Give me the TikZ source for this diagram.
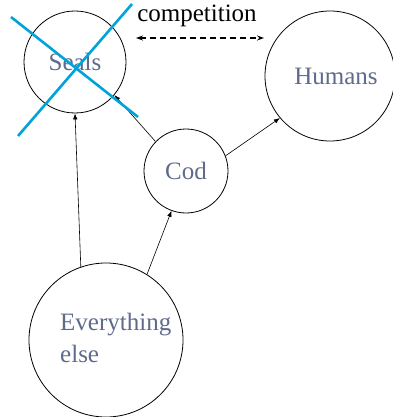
\documentclass[tikz,border=0pt]{standalone}
\usepackage{fontspec}
\setmainfont{Liberation Serif}
\usetikzlibrary{arrows.meta}
\definecolor{nodetext}{RGB}{95,106,140}
\definecolor{crossblue}{RGB}{0,163,218}
\begin{document}
\begin{tikzpicture}[x=1pt,y=-1pt,
  species/.style={circle,draw=black,line width=0.8pt,inner sep=0pt,
    text=nodetext,font=\fontsize{25}{29}\selectfont},
  link/.style={line width=0.6pt,-{Latex[length=6pt,width=4.5pt]}},
  cross/.style={crossblue,line width=2.6pt}]
  \useasboundingbox (0,0) rectangle (392,417);

  % food-web nodes
  \node[species,minimum size=102pt] (seals) at (75,62) {Seals};
  \node[species,minimum size=130pt] (humans) at (330,76) {\hspace*{12pt}Humans};
  \node[species,minimum size=84pt] (cod) at (186,171) {Cod};
  \node[species,minimum size=154pt] (else) at (106,340) {};
  \node[text=nodetext,font=\fontsize{25}{32}\selectfont,align=left,anchor=north west,inner sep=0pt]
    (elselabel) at (60,313) {Everything\\else};

  % trophic links
  \draw[link] (else.109) -- (seals.270);
  \draw[link] (else.58) -- (cod.250);
  \draw[link] (cod.21) -- (humans.220);
  \draw[link] (cod.136) -- (seals.320);

  % competition between seals and humans
  \node[font=\fontsize{25}{29}\selectfont,inner sep=0pt] (comp) at (197,16) {competition};
  \coordinate (compL) at (136,38);
  \coordinate (compR) at (264,38);
  \draw[line width=1.2pt,dash pattern=on 5.5pt off 4.5pt,
    {Stealth[length=7pt,width=5pt]}-{Stealth[length=7pt,width=5pt]}] (compL) -- (compR);

  % seals crossed out
  \coordinate (xa) at (11,17);
  \coordinate (xb) at (138,117);
  \coordinate (xc) at (132,4);
  \coordinate (xd) at (18,136);
  \draw[cross] (xa) -- (xb);
  \draw[cross] (xc) -- (xd);
\end{tikzpicture}
\end{document}
